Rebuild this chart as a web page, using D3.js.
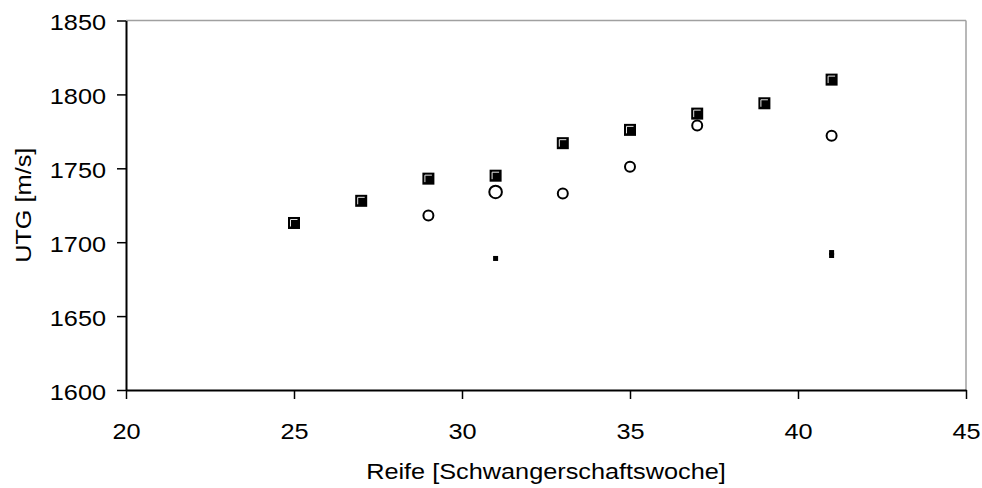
<!DOCTYPE html>
<html>
<head>
<meta charset="utf-8">
<script src="https://cdn.jsdelivr.net/npm/d3@7/dist/d3.min.js"></script>
<style>
  html, body { margin: 0; padding: 0; background: #fff; }
  svg { display: block; }
  text { font-family: "Liberation Sans", Arial, sans-serif; fill: #000; }
</style>
</head>
<body>
<svg id="chart" width="982" height="488"></svg>
<script>
// Gestational week (x) and UTG speed of sound in m/s (y)
const weeksA = [25, 27, 29, 31, 33, 35, 37, 39, 41];
const utgA   = [1713, 1728, 1743, 1745, 1767, 1776, 1787, 1794, 1810];

const weeksB = [29, 33, 35, 37, 41];
const utgB   = [1718, 1733, 1751, 1779, 1772];

const weeksC = [31];
const utgC   = [1734];

const weeksD = [31, 41, 41];
const utgD   = [1689, 1691, 1693];

const xTicks = [20, 25, 30, 35, 40, 45];
const yTicks = [1600, 1650, 1700, 1750, 1800, 1850];

const xTitle = "Reife [Schwangerschaftswoche]";
const yTitle = "UTG [m/s]";

const svg = d3.select("#chart");
const plotL = 126, plotR = 966, plotT = 20.5, plotB = 390;
const fontSize = 22;
const stretch = 1.15;   // horizontal stretch of the label type

const x = d3.scaleLinear().domain([20, 45]).range([plotL, plotR]);
const y = d3.scaleLinear().domain([1600, 1850]).range([plotB, plotT]);

// frame: light top and right edges
svg.append("line").attr("x1", plotL).attr("x2", plotR).attr("y1", plotT).attr("y2", plotT)
  .attr("stroke", "#a0a0a0").attr("stroke-width", 1.5);
svg.append("line").attr("x1", plotR).attr("x2", plotR).attr("y1", plotT).attr("y2", plotB)
  .attr("stroke", "#a0a0a0").attr("stroke-width", 1.5);

// y axis
const gy = svg.append("g").attr("transform", `translate(${plotL},0)`)
  .call(d3.axisLeft(y).tickValues(yTicks).tickSize(9).tickSizeOuter(0).tickFormat(d3.format("d")));
gy.select(".domain").attr("stroke", "#000").attr("stroke-width", 2);
gy.selectAll(".tick line").attr("stroke", "#000").attr("stroke-width", 1.5);
gy.selectAll(".tick text")
  .attr("font-size", fontSize).attr("font-family", null)
  .attr("x", -20 / stretch).attr("dy", "0.42em")
  .attr("transform", `scale(${stretch},1)`);

// x axis
const gx = svg.append("g").attr("transform", `translate(0,${plotB})`)
  .call(d3.axisBottom(x).tickValues(xTicks).tickSize(9).tickSizeOuter(0).tickFormat(d3.format("d")));
gx.select(".domain").attr("stroke", "#000").attr("stroke-width", 2);
gx.selectAll(".tick line").attr("stroke", "#000").attr("stroke-width", 1.5);
gx.selectAll(".tick text")
  .attr("font-size", fontSize).attr("font-family", null)
  .attr("y", 49).attr("dy", 0)
  .attr("transform", `scale(${stretch},1)`);

// axis titles
svg.append("text")
  .attr("transform", `translate(${(plotL + plotR) / 2},479) scale(${stretch},1)`)
  .attr("text-anchor", "middle").attr("font-size", fontSize).text(xTitle);
svg.append("text")
  .attr("transform", `translate(31,${(plotT + plotB) / 2}) rotate(-90) scale(${stretch},1)`)
  .attr("text-anchor", "middle").attr("font-size", fontSize).text(yTitle);

// series A: filled squares with a light inner corner
const ptsA = weeksA.map((w, i) => ({ w, v: utgA[i] }));
const gA = svg.append("g").selectAll("g").data(ptsA).join("g")
  .attr("transform", d => `translate(${x(d.w)},${y(d.v)})`);
gA.append("rect").attr("x", -6).attr("y", -6).attr("width", 12).attr("height", 12)
  .attr("fill", "#000");
gA.append("path").attr("d", "M-3.5,3.5V-3.5H3.5")
  .attr("fill", "none").attr("stroke", "#e6e6e6").attr("stroke-width", 1);

// series B: open circles
const ptsB = weeksB.map((w, i) => ({ w, v: utgB[i] }));
svg.append("g").selectAll("circle").data(ptsB).join("circle")
  .attr("cx", d => x(d.w)).attr("cy", d => y(d.v)).attr("r", 5)
  .attr("fill", "none").attr("stroke", "#000").attr("stroke-width", 2);

// series C: larger open circle
const ptsC = weeksC.map((w, i) => ({ w, v: utgC[i] }));
svg.append("g").selectAll("circle").data(ptsC).join("circle")
  .attr("cx", d => x(d.w)).attr("cy", d => y(d.v)).attr("r", 6.3)
  .attr("fill", "none").attr("stroke", "#000").attr("stroke-width", 2);

// series D: small squares
const ptsD = weeksD.map((w, i) => ({ w, v: utgD[i] }));
svg.append("g").selectAll("rect").data(ptsD).join("rect")
  .attr("x", d => x(d.w) - 2.5).attr("y", d => y(d.v) - 2.5)
  .attr("width", 5).attr("height", 5).attr("fill", "#000");
</script>
</body>
</html>
